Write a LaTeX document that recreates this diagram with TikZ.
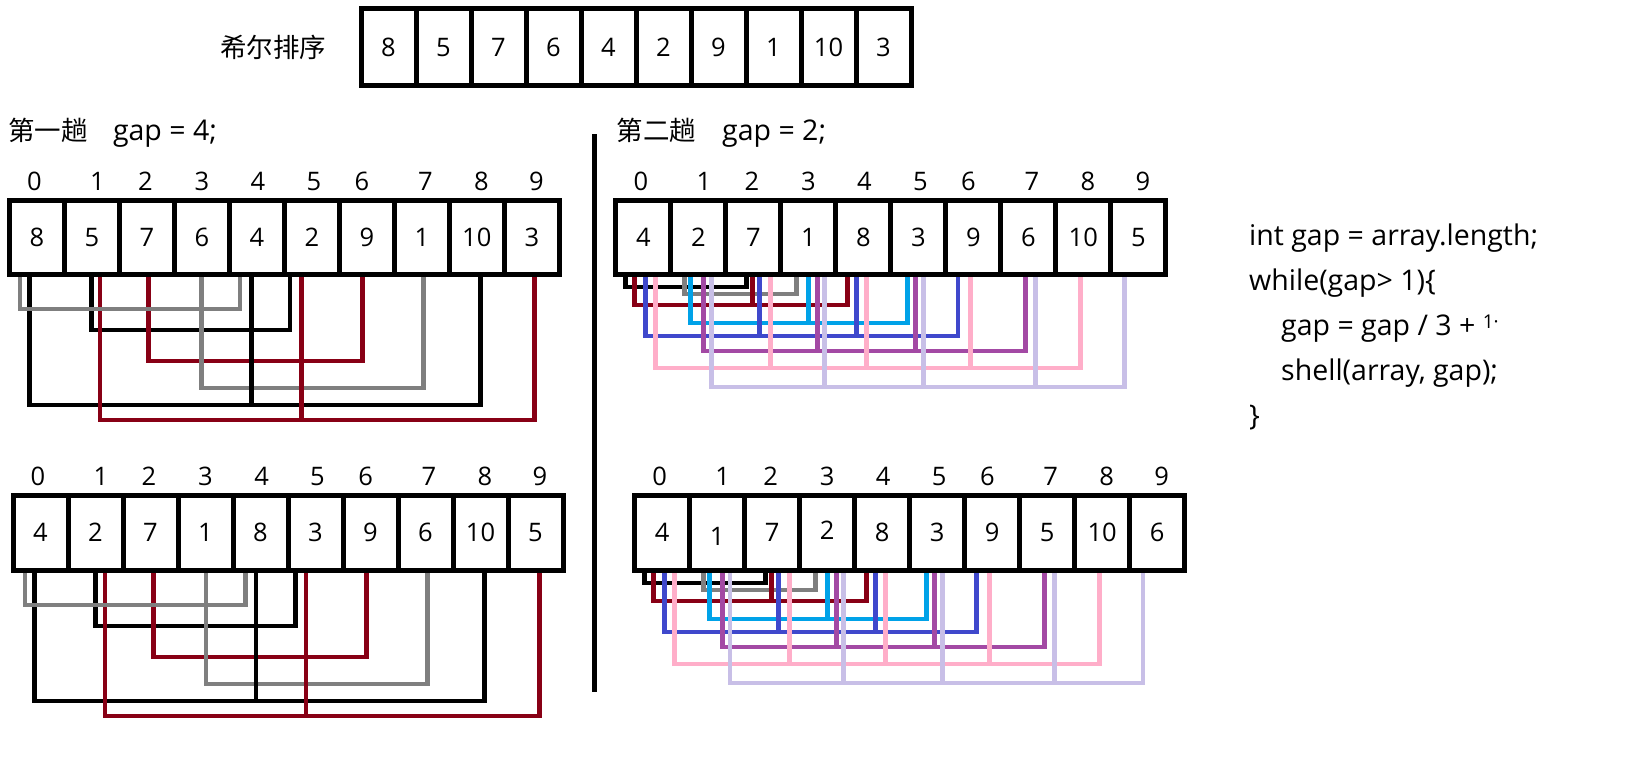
\documentclass[tikz,border=0pt]{standalone}
\usepackage{fontspec}
\setmainfont{Open Sans}
\newfontfamily\cjk{Noto Sans CJK SC}
\definecolor{cgray}{HTML}{7F7F7F}
\definecolor{cred}{HTML}{880015}
\definecolor{ccyan}{HTML}{00A2E8}
\definecolor{cblue}{HTML}{3F48CC}
\definecolor{cpurple}{HTML}{A349A4}
\definecolor{cpink}{HTML}{FFAEC9}
\definecolor{clav}{HTML}{C8BFE7}
\newcommand\dn[1]{\raisebox{-3.5pt}{#1}}
\newcommand\up[1]{\raisebox{2.5pt}{#1}}
% #1 name, #2 left, #3 centre y, #4 height, #5 values
\newcommand\mkarr[5]{%
  \foreach \v [count=\i from 0] in {#5}{%
    \node[cell, minimum height=#4] (#1-\i) at ({#2+27.5+55*\i},#3) {\v};
  }%
}
% index labels: #1 name, #2 left, #3 y
\newcommand\mkidx[3]{%
  \foreach \o [count=\i from 0] in {25,88,136,192.5,248.6,304.5,352.7,416,472,527}{%
    \node[idx] (#1-l\i) at ({#2+\o},#3) {\i};
  }%
}
% bracket group: #1 style, #2 array, #3 depth, #4 list cell/offset
\newcommand\grp[4]{%
  \foreach \c/\o [count=\k] in {#4}{%
    \ifnum\k=1\relax
      \coordinate (#2-h) at ([xshift=\o pt,yshift=-#3 pt]#2-\c.south west);
    \fi
    \draw[#1] (#2-h) -| ([xshift=\o pt,yshift=-4.9pt]#2-\c.south west);
  }%
}
\begin{document}
\begin{tikzpicture}[x=1pt,y=-1pt,
  cell/.style={draw, line width=5pt, minimum width=55pt, inner sep=0pt, outer sep=0pt,
    text height=18.3pt, text depth=0pt, font=\fontsize{25.5}{30}\selectfont},
  idx/.style={inner sep=0pt, text height=18.3pt, text depth=0pt, font=\fontsize{25.5}{30}\selectfont},
  con/.style={line width=4.8pt, line cap=rect, line join=miter},
  txt/.style={inner sep=0pt, font=\fontsize{28.5}{32}\selectfont},
  cjkt/.style={inner sep=0pt, font=\cjk\fontsize{26.5}{30}\selectfont},
]
\useasboundingbox (0,0) rectangle (1625,768);

% title and top array
\node[cjkt] (title) at (273,47) {希尔排序};
\mkarr{T}{361}{47.2}{77.5}{8,5,7,6,4,2,9,1,10,3}

% headings
\node[txt, anchor=west] (h1) at (8.3,133) {{\cjk\fontsize{26.5}{30}\selectfont 第一趟}\hspace{25pt}gap = 4;};
\node[txt, anchor=west] (h2) at (616.5,133) {{\cjk\fontsize{26.5}{30}\selectfont 第二趟}\hspace{26pt}gap = 2;};

% divider
\coordinate (dvt) at (594,134);
\coordinate (dvb) at (594,692);
\draw[line width=5pt] (dvt) -- (dvb);

% arrays
\mkarr{A}{9.3}{237}{74}{8,5,7,6,4,2,9,1,10,3}
\mkidx{A}{9.3}{181}
\mkarr{B}{13}{532.7}{74.6}{4,2,7,1,8,3,9,6,10,5}
\mkidx{B}{13}{476}
\mkarr{C}{615.8}{237}{74}{4,2,7,1,8,3,9,6,10,5}
\mkidx{C}{615.8}{181}
\mkarr{D}{634.6}{532.7}{74.6}{4,\dn{1},7,\up{2},8,3,9,5,10,6}
\mkidx{D}{634.6}{476}

% gap = 4 connectors
\grp{con,black}{A}{56}{1/27.4,5/5.7}
\grp{con,cred}{A}{87}{2/29,6/23}
\grp{con,cgray}{A}{114}{3/27.4,7/29}
\grp{con,black}{A}{131}{0/20,4/22.4,8/31}
\grp{con,cred}{A}{146}{1/35.7,5/17.5,9/30}
\grp{con,cgray}{A}{35}{0/10.7,4/10.7}

\grp{con,black}{B}{56}{1/27.2,5/7.2}
\grp{con,cred}{B}{87}{2/30.5,6/23.6}
\grp{con,cgray}{B}{114}{3/28,7/29.4}
\grp{con,black}{B}{131}{0/21.5,4/23,8/31.6}
\grp{con,cred}{B}{146}{1/36.9,5/18,9/31.2}
\grp{con,cgray}{B}{35}{0/11.9,4/12.2}

% gap = 2 connectors
\grp{con,black}{C}{13}{0/9.7,2/21}
\grp{con,cgray}{C}{20}{1/14,3/16}
\grp{con,cred}{C}{31}{0/19,2/27,4/11.7}
\grp{con,ccyan}{C}{49}{1/20,3/28,5/17}
\grp{con,cblue}{C}{62}{0/30,2/34,4/20.7,6/12.2}
\grp{con,cpurple}{C}{77}{1/32.7,3/37,5/24.5,7/24.8}
\grp{con,cpink}{C}{94}{0/40,2/44.5,4/30.7,6/25,8/25}
\grp{con,clav}{C}{113}{1/40.3,3/43.6,5/33,7/34.6,9/13.3}

\grp{con,black}{D}{13}{0/9.7,2/21}
\grp{con,cgray}{D}{20}{1/14,3/16}
\grp{con,cred}{D}{31}{0/19,2/27,4/11.7}
\grp{con,ccyan}{D}{49}{1/20,3/28,5/17}
\grp{con,cblue}{D}{62}{0/30,2/34,4/20.7,6/12.2}
\grp{con,cpurple}{D}{77}{1/32.7,3/37,5/24.5,7/24.8}
\grp{con,cpink}{D}{94}{0/40,2/44.5,4/30.7,6/25,8/25}
\grp{con,clav}{D}{113}{1/40.3,3/43.6,5/33,7/34.6,9/13.3}

% code
\node[txt, anchor=base west] (c1) at (1249,245) {int gap = array.length;};
\node[txt, anchor=base west] (c2) at (1249,290) {while(gap> 1)\{};
\node[txt, anchor=base west] (c3) at (1281,335) {gap = gap / 3 + \raisebox{6.5pt}{\fontsize{19}{19}\selectfont 1·}};
\node[txt, anchor=base west] (c4) at (1281,380) {shell(array, gap);};
\node[txt, anchor=base west] (c5) at (1249,425) {\}};
\end{tikzpicture}
\end{document}
